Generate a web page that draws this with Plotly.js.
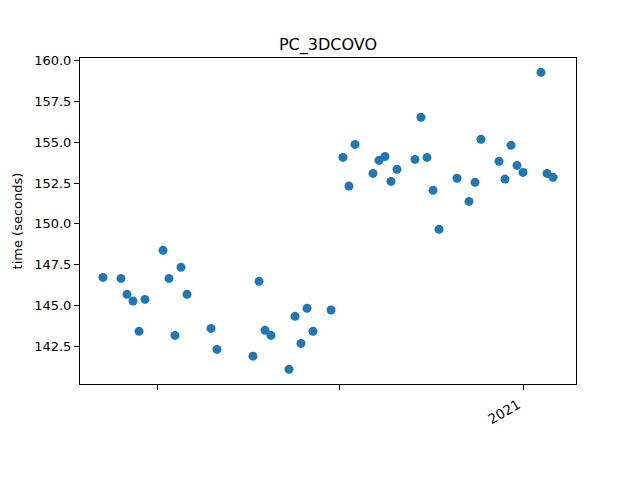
<!DOCTYPE html>
<html>
<head>
<meta charset="utf-8">
<script src="https://cdn.plot.ly/plotly-3.0.1.min.js"></script>
<style>html,body{margin:0;padding:0;background:#fff;}</style>
</head>
<body>
<div id="chart" style="width:640px;height:480px;"></div>
<script>
const dates = [
  '2019-11-08','2019-11-26','2019-12-02','2019-12-08','2019-12-14','2019-12-20',
  '2020-01-07','2020-01-13','2020-01-19','2020-01-25','2020-01-31','2020-02-24',
  '2020-03-01','2020-04-06','2020-04-12','2020-04-18','2020-04-24','2020-05-12',
  '2020-05-18','2020-05-24','2020-05-30','2020-06-05','2020-06-23','2020-07-05',
  '2020-07-11','2020-07-17','2020-08-04','2020-08-10','2020-08-16','2020-08-22',
  '2020-08-28','2020-09-15','2020-09-21','2020-09-27','2020-10-03','2020-10-09',
  '2020-10-27','2020-11-08','2020-11-14','2020-11-20','2020-12-08','2020-12-14',
  '2020-12-20','2020-12-26','2021-01-01','2021-01-19','2021-01-25','2021-01-31'
];
const times = [
  146.71,146.65,145.67,145.26,143.40,145.36,
  148.37,146.65,143.15,147.33,145.67,143.58,
  142.29,141.88,146.47,143.46,143.15,141.07,
  144.32,142.66,144.81,143.40,144.71,154.07,
  152.31,154.87,153.09,153.89,154.13,152.60,
  153.34,153.95,156.53,154.07,152.05,149.66,
  152.79,151.37,152.54,155.18,153.83,152.74,
  154.81,153.58,153.15,159.29,153.09,152.85
];
const xTickVals = ['2020-01-01','2020-07-01','2021-01-01'];
const xTickText = ['', '', '2021'];
const yTickVals = [142.5,145.0,147.5,150.0,152.5,155.0,157.5,160.0];
const titleText = 'PC_3DCOVO';
const yTitle = 'time (seconds)';

const font = 'DejaVu Sans, sans-serif';
Plotly.newPlot('chart', [{
  x: dates, y: times, type: 'scatter', mode: 'markers',
  marker: {color: '#1f77b4', size: 9},
  hoverinfo: 'none'
}], {
  width: 640, height: 480,
  margin: {l: 80, r: 64, t: 58, b: 96},
  paper_bgcolor: '#fff', plot_bgcolor: '#fff',
  showlegend: false,
  font: {family: font, color: '#000', size: 13},
  title: {text: titleText, font: {family: font, size: 16, color: '#000'},
          x: 0.5125, xanchor: 'center', y: 0.907, yanchor: 'middle'},
  xaxis: {
    type: 'date', range: ['2019-10-16', '2021-02-23'],
    tickvals: xTickVals, ticktext: xTickText, tickangle: -30,
    ticklabelshift: -5, ticklabelstandoff: 2,
    ticks: 'outside', ticklen: 5, tickwidth: 1, tickcolor: '#000',
    showline: true, linecolor: '#000', linewidth: 1, mirror: true,
    showgrid: false, zeroline: false,
    tickfont: {family: font, size: 13.5, color: '#000'}
  },
  yaxis: {
    range: [140.17, 160.17],
    tickvals: yTickVals, tickformat: '.1f',
    ticks: 'outside', ticklen: 5, tickwidth: 1, tickcolor: '#000',
    showline: true, linecolor: '#000', linewidth: 1, mirror: true,
    showgrid: false, zeroline: false,
    tickfont: {family: font, size: 13, color: '#000'},
    title: {text: yTitle, font: {family: font, size: 13, color: '#000'}, standoff: 8}
  }
}, {displayModeBar: false, staticPlot: true});
</script>
</body>
</html>
